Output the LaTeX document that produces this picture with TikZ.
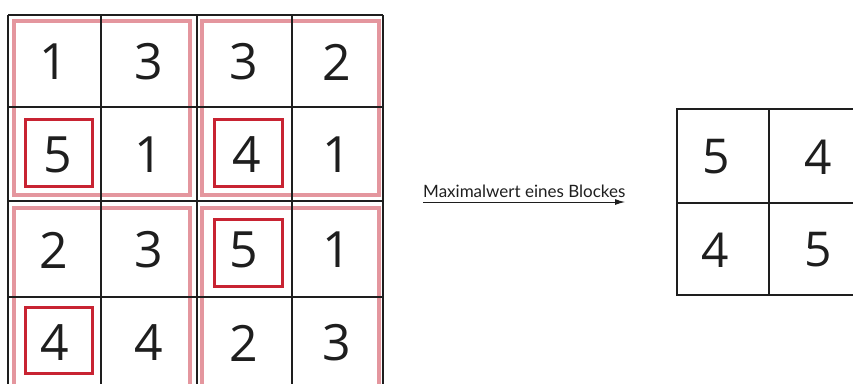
\documentclass[tikz,border=0pt]{standalone}
\usepackage{fontspec}
\setmainfont{Open Sans}
\newfontfamily\labelfont{Lato}
\usetikzlibrary{arrows.meta}
\definecolor{gridblack}{RGB}{30,30,30}
\definecolor{blockpink}{RGB}{228,150,158}
\definecolor{maxred}{RGB}{200,35,50}
\tikzset{
  cellline/.style={draw=gridblack, line width=1.7pt},
  blockbox/.style={draw=blockpink, line width=3.8pt},
  maxbox/.style={draw=maxred, line width=3pt},
  digit/.style={font=\fontsize{50}{50}\selectfont, text=gridblack, inner sep=0pt, anchor=center},
  rdigit/.style={font=\fontsize{48}{48}\selectfont, text=gridblack, inner sep=0pt, anchor=center},
  lbl/.style={font=\labelfont\fontsize{17}{17}\selectfont, text=gridblack, inner sep=0pt, anchor=base west}
}
\begin{document}
\begin{tikzpicture}[x=1pt,y=-1pt]
\useasboundingbox (0,0) rectangle (853,383);
\begin{scope}
\clip (0,0) rectangle (853,383);
% pink block frames
\draw[blockbox] (14,21) rectangle (190,195);
\draw[blockbox] (202,21) rectangle (379,195);
\draw[blockbox] (14,208) rectangle (190,386);
\draw[blockbox] (202,208) rectangle (379,386);
% left grid
\foreach \x in {8,101,197,292,383} \draw[cellline] (\x,15) -- (\x,395);
\foreach \y in {15,107,201,297} \draw[cellline] (8,\y) -- (383,\y);
% red max boxes
\draw[maxbox] (25,119) rectangle (92,186);
\draw[maxbox] (214,119) rectangle (282,186);
\draw[maxbox] (214,219) rectangle (282,286);
\draw[maxbox] (25,307) rectangle (92,373);
% digits
\node[digit] (a11) at (54,62) {1};
\node[digit] (a12) at (149,62) {3};
\node[digit] (a13) at (244,62) {3};
\node[digit] (a14) at (337,62) {2};
\node[digit] (a21) at (58,155) {5};
\node[digit] (a22) at (149,155) {1};
\node[digit] (a23) at (247,155) {4};
\node[digit] (a24) at (337,155) {1};
\node[digit] (a31) at (54,250) {2};
\node[digit] (a32) at (149,250) {3};
\node[digit] (a33) at (244,250) {5};
\node[digit] (a34) at (337,250) {1};
\node[digit] (a41) at (55,343) {4};
\node[digit] (a42) at (149,343) {4};
\node[digit] (a43) at (244,343) {2};
\node[digit] (a44) at (337,343) {3};
% right grid
\draw[cellline] (677,109) rectangle (870,295);
\draw[cellline] (769,109) -- (769,295);
\draw[cellline] (677,203) -- (870,203);
\node[rdigit] (b11) at (716,157) {5};
\node[rdigit] (b12) at (818,157) {4};
\node[rdigit] (b21) at (715,250) {4};
\node[rdigit] (b22) at (818,250) {5};
% arrow with label
\coordinate (arrS) at (423,202);
\coordinate (arrE) at (625,202);
\draw[gridblack, line width=1pt, -{Latex[length=10pt,width=6pt]}] (arrS) -- (arrE);
\node[lbl] (lab) at (423,197) {Maximalwert eines Blockes};
\end{scope}
\end{tikzpicture}
\end{document}
